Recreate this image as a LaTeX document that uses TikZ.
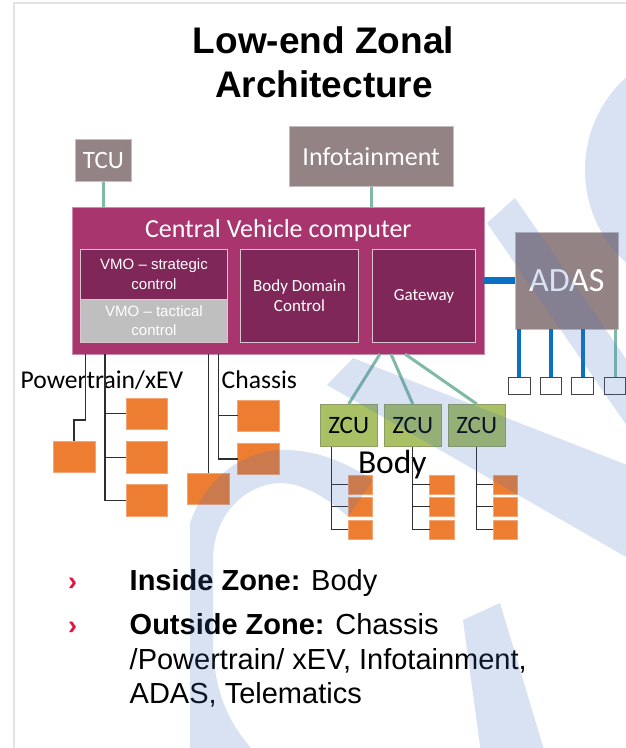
\documentclass[tikz,border=0pt]{standalone}
\usepackage{fontspec}
\setmainfont{Liberation Sans}
\newfontfamily\calib{Carlito}
\usetikzlibrary{calc}

\definecolor{framegrey}{HTML}{E3E3E3}
\definecolor{mauve}{HTML}{948385}
\definecolor{mauveedge}{HTML}{C4BCBD}
\definecolor{cvcpink}{HTML}{A9356F}
\definecolor{cvcedge}{HTML}{C98CAB}
\definecolor{plum}{HTML}{7F2759}
\definecolor{plumedge}{HTML}{D9C6D0}
\definecolor{tacgrey}{HTML}{BFBFBF}
\definecolor{teal}{HTML}{80BAA7}
\definecolor{busblue}{HTML}{0B70C1}
\definecolor{zcugreen}{HTML}{A9C064}
\definecolor{zcuedge}{HTML}{8E9E62}
\definecolor{ecuorange}{HTML}{ED7D31}
\definecolor{ecuedge}{HTML}{F3A574}
\definecolor{wirecol}{HTML}{2E2E2E}
\definecolor{bulletred}{HTML}{E4103F}
\definecolor{markblue}{HTML}{4472C4}

\begin{document}
\begin{tikzpicture}[x=1pt,y=-1pt,
  every node/.style={inner sep=0pt, outer sep=0pt},
  greybox/.style={fill=mauve, draw=mauveedge, line width=0.8pt, text=white},
  cvcbox/.style={fill=cvcpink, draw=cvcedge, line width=0.8pt},
  plumbox/.style={fill=plum, draw=plumedge, line width=0.8pt, text=white, align=center},
  zcubox/.style={fill=zcugreen, draw=zcuedge, line width=0.8pt, minimum width=57.3pt, minimum height=42.7pt,
    font=\calib\fontsize{25}{30}\selectfont},
  ecu/.style={fill=ecuorange, draw=ecuedge, line width=0.5pt},
  bigecu/.style={ecu, minimum width=41.6pt, minimum height=31.2pt},
  smallecu/.style={ecu, minimum width=24.4pt, minimum height=19pt},
  sensor/.style={fill=white, draw=wirecol!90, line width=1.1pt, minimum width=21.7pt, minimum height=16.7pt},
  tealwire/.style={draw=teal, line width=3pt},
  bluewire/.style={draw=busblue, line width=4pt},
  wire/.style={draw=wirecol, line width=1.2pt},
  bul/.style={anchor=base west, font=\fontsize{29}{34}\selectfont},
  bulletmark/.style={text=bulletred, anchor=base west, font=\bfseries\fontsize{27}{30}\selectfont}
]
\useasboundingbox (0,0) rectangle (626,748);
\fill[white] (0,0) rectangle (626,748);

% page frame
\draw[framegrey, line width=2pt] (14,760) -- (14,3) -- (640,3);

% title
\node[anchor=base, font=\bfseries\fontsize{37}{44}\selectfont] (title1) at (323.5,53) {Low-end Zonal};
\node[anchor=base, font=\bfseries\fontsize{37}{44}\selectfont] (title2) at (324,97) {Architecture};

% top-level units
\node[greybox, minimum width=56.7pt, minimum height=42.4pt, font=\calib\fontsize{25}{30}\selectfont] (tcu) at (103.4,160.5) {TCU};
\node[greybox, minimum width=163.6pt, minimum height=60.7pt, font=\calib\fontsize{26}{31}\selectfont] (info) at (371.2,156.4) {Infotainment};

% central vehicle computer
\node[cvcbox, minimum width=411.3pt, minimum height=146.7pt] (cvc) at (278.4,280.7) {};
\node[anchor=base, text=white, font=\calib\fontsize{26}{31}\selectfont] (cvctitle) at (278.3,237.3) {Central Vehicle computer};
\node[plumbox, minimum width=146.6pt, minimum height=50pt, font=\fontsize{15}{20}\selectfont] (vmos) at (154,274.3) {VMO -- strategic\\control};
\node[plumbox, fill=tacgrey, minimum width=146.6pt, minimum height=43.4pt, font=\fontsize{15}{19}\selectfont] (vmot) at (154,321) {VMO -- tactical\\control};
\node[plumbox, minimum width=117.6pt, minimum height=93.4pt, font=\calib\fontsize{17}{20}\selectfont] (bdc) at (299.5,296) {Body Domain\\Control};
\node[plumbox, minimum width=103.4pt, minimum height=93.4pt, font=\calib\fontsize{17}{20}\selectfont] (gw) at (424,296) {Gateway};

% ADAS and its sensors
\node[greybox, minimum width=103pt, minimum height=97.3pt, font=\calib\fontsize{34}{40}\selectfont] (adas) at (566.8,280.7) {ADAS};
\node[sensor] (s1) at (519.2,385.7) {};
\node[sensor] (s2) at (550.9,385.7) {};
\node[sensor] (s3) at (582.7,385.7) {};
\node[sensor] (s4) at (615,385.7) {};

% zone control units
\node[zcubox] (z1) at (348.7,425.3) {ZCU};
\node[zcubox] (z2) at (412.7,425.3) {ZCU};
\node[zcubox] (z3) at (476.7,425.3) {ZCU};

% labels
\node[anchor=base west, font=\calib\fontsize{25.6}{30}\selectfont] (ptlabel) at (20.7,388.3) {Powertrain/xEV};
\node[anchor=base west, font=\calib\fontsize{25.6}{30}\selectfont] (chlabel) at (221.7,388.3) {Chassis};
\node[anchor=base west, font=\calib\fontsize{33.5}{40}\selectfont] (bodylabel) at (358,473.3) {Body};

% connections to the central computer
\draw[tealwire] (tcu.south) -- (tcu.south |- cvc.north);
\draw[tealwire] (info.south) -- (info.south |- cvc.north);
\draw[draw=busblue, line width=6.5pt] (cvc.east |- adas.west) -- (adas.west);
\coordinate (zc1) at (380,354);
\coordinate (zc2) at (391,354);
\coordinate (zc3) at (405,354);
\draw[tealwire] (zc1) -- (z1.north);
\draw[tealwire] (zc2) -- (z2.north);
\draw[tealwire] (zc3) -- (z3.north);

% ADAS sensor links
\draw[bluewire] (s1.north |- adas.south) -- (s1.north);
\draw[bluewire] (s2.north |- adas.south) -- (s2.north);
\draw[bluewire] (s3.north |- adas.south) -- (s3.north);
\draw[tealwire] (s4.north |- adas.south) -- (s4.north);

% powertrain / xEV branch
\node[bigecu] (p0) at (74,456.8) {};
\node[bigecu] (p1) at (146.8,413.8) {};
\node[bigecu] (p2) at (146.8,457.2) {};
\node[bigecu] (p3) at (146.8,500.3) {};
\coordinate (pa) at (85.7,354);
\coordinate (pb) at (105,354);
\draw[wire] (pa) -- (85.7,420) -- (74,420) -- (p0.north);
\draw[wire] (pb) |- (p3.west);
\draw[wire] (pb |- p1.west) -- (p1.west);
\draw[wire] (pb |- p2.west) -- (p2.west);

% chassis branch
\node[bigecu] (c0) at (208.5,489) {};
\node[bigecu] (c1) at (258.5,415.5) {};
\node[bigecu] (c2) at (258.5,459) {};
\coordinate (ca) at (208.5,354);
\coordinate (cb) at (218.3,354);
\draw[wire] (ca) -- (c0.north);
\draw[wire] (cb) |- (c2.west);
\draw[wire] (cb |- c1.west) -- (c1.west);

% body devices below each ZCU
\foreach \z/\vx/\bx in {z1/331.7/360.5, z2/412.7/441.7, z3/476.7/505.5}{
  \node[smallecu] (\z a) at (\bx,484.5) {};
  \node[smallecu] (\z b) at (\bx,506.7) {};
  \node[smallecu] (\z c) at (\bx,529.7) {};
  \coordinate (\z t) at (\vx,446.7);
  \draw[wire] (\z t) |- (\z c.west);
  \draw[wire] (\z t |- \z a.west) -- (\z a.west);
  \draw[wire] (\z t |- \z b.west) -- (\z b.west);
}

% bullet list
\node[bulletmark] (m1) at (68,590) {›};
\node[bulletmark] (m2) at (68,634) {›};
\node[bul] (b1) at (129.7,590) {\textbf{Inside Zone:} Body};
\node[bul] (b2) at (129.7,634) {\textbf{Outside Zone:} Chassis};
\node[bul] (b3) at (129.7,669) {/Powertrain/ xEV, Infotainment,};
\node[bul] (b4) at (129.7,703.5) {ADAS, Telematics};

% background emblem, laid over the slide
\begin{scope}[transparency group, opacity=0.2]
  \clip (0,0) rectangle (626,748);
  % round lobe at the right edge
  \fill[markblue] (710,170) circle (125pt);
  % upper diagonal bar
  \fill[markblue] (487,223) -- (515,198) -- (742,527) -- (714,552) -- cycle;
  % lower diagonal bar
  \fill[markblue] (327,385) -- (353,358) -- (640,470) -- (640,565) -- cycle;
  % ring: left side and top, ending under the body devices
  \fill[markblue] (190,800) -- (190,523)
      .. controls (205,480) and (240,452) .. (280,450)
      .. controls (315,449) and (345,462) .. (373,480)
      -- (348,517)
      .. controls (325,495) and (300,483) .. (280,483)
      .. controls (245,484) and (213,515) .. (213,560)
      -- (213,640) .. controls (213,700) and (235,735) .. (268,765)
      -- (268,800) -- cycle;
  % ring: right branch rising from the bottom
  \fill[markblue] (463,620) -- (500,603) -- (565,820) -- (490,820) -- cycle;
\end{scope}
\end{tikzpicture}
\end{document}
